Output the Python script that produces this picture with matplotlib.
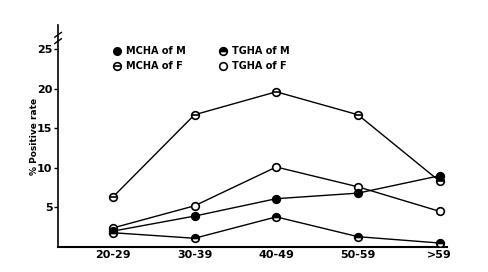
import numpy as np
import matplotlib.pyplot as plt

groups = ['20-29', '30-39', '40-49', '50-59', '>59']
mcha_m = [2.0, 3.9, 6.1, 6.8, 9.0]
tgha_m = [1.8, 1.1, 3.8, 1.3, 0.5]
mcha_f = [6.3, 16.7, 19.6, 16.7, 8.3]
tgha_f = [2.4, 5.2, 10.1, 7.6, 4.5]
yticks = [5, 10, 15, 20, 25]

fig = plt.figure(figsize=(4.88, 2.72), dpi=100)
ax = fig.add_axes([0.119, 0.092, 0.797, 0.815])
x = np.arange(len(groups))

lw = 1.0
ms = 5.5
ax.plot(x, mcha_f, 'k-', lw=lw, zorder=1)
ax.plot(x, tgha_f, 'k-', lw=lw, zorder=1)
ax.plot(x, mcha_m, 'k-', lw=lw, zorder=1)
ax.plot(x, tgha_m, 'k-', lw=lw, zorder=1)

ax.plot(x, mcha_f, 'o', ms=ms, mfc='white', mec='k', mew=1.2, zorder=3)
ax.plot(x, mcha_f, '_', ms=ms, mec='k', mew=1.2, zorder=4)
ax.plot(x, tgha_f, 'o', ms=ms, mfc='white', mec='k', mew=1.2, zorder=3)
ax.plot(x, mcha_m, 'o', ms=ms, mfc='k', mec='k', mew=1.2, zorder=3)
ax.plot(x, tgha_m, 'o', ms=ms, mfc='k', mfcalt='white', fillstyle='top',
        mec='k', mew=1.2, zorder=3)

ax.set_xlim(-0.67, 4.09)
ax.set_ylim(0, 28)
ax.set_xticks(x)
ax.set_xticklabels(groups, fontsize=8, fontweight='bold')
ax.set_yticks(yticks)
ax.set_yticklabels([str(t) for t in yticks], fontsize=8, fontweight='bold')
ax.tick_params(axis='x', length=0, pad=2)
ax.tick_params(axis='y', length=3, width=1, direction='out', pad=1)
ax.spines['top'].set_visible(False)
ax.spines['right'].set_visible(False)
ax.spines['left'].set_linewidth(1.2)
ax.spines['bottom'].set_linewidth(1.5)
ax.set_ylabel('% Positive rate', fontsize=6.5, fontweight='bold', labelpad=-1)

# axis break marks at the top of the y axis
for dy in (26.0, 26.8):
    ax.plot([-0.71, -0.63], [dy - 0.3, dy + 0.3], 'k-', lw=1, clip_on=False)

# legend drawn by hand
leg = [(0.05, 24.7, 'MCHA of M', 'full'), (1.35, 24.7, 'TGHA of M', 'half'),
       (0.05, 22.8, 'MCHA of F', 'theta'), (1.35, 22.8, 'TGHA of F', 'open')]
for lx, ly, txt, kind in leg:
    if kind == 'full':
        ax.plot(lx, ly, 'o', ms=ms, mfc='k', mec='k')
    elif kind == 'half':
        ax.plot(lx, ly, 'o', ms=ms, mfc='k', mfcalt='white', fillstyle='top',
                mec='k', mew=1.2)
    elif kind == 'theta':
        ax.plot(lx, ly, 'o', ms=ms, mfc='white', mec='k', mew=1.2)
        ax.plot(lx, ly, '_', ms=ms, mec='k', mew=1.2)
    else:
        ax.plot(lx, ly, 'o', ms=ms, mfc='white', mec='k', mew=1.2)
    ax.text(lx + 0.11, ly, txt, fontsize=7, fontweight='bold', va='center')

fig.savefig('out.png', dpi=100)
